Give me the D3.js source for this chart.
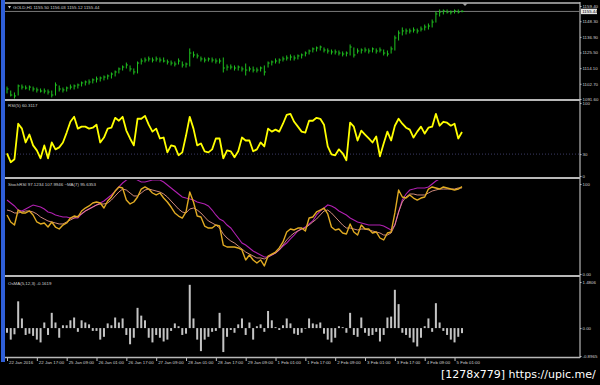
<html>
<script src="https://cdnjs.cloudflare.com/ajax/libs/d3/7.8.5/d3.min.js"></script>
<style>
body { margin: 0; background-color: #000; overflow: hidden; }
svg { display: block; }
.lbl { font: 4.4px 'Liberation Sans', Arial, sans-serif; fill: #d0d0d0; }
.axis text { font: 4.4px 'Liberation Sans', Arial, sans-serif; fill: #d0d0d0; }
.axis line { stroke: #c0c0c0; }
</style>
<body>
<script>
// GOLD H1 bars, one value per bar
var priceHigh = [1100.3,1097.4,1096.0,1101.8,1101.8,1101.1,1101.1,1100.3,1099.6,1098.9,
 1098.9,1098.2,1097.4,1103.3,1101.1,1099.6,1100.3,1101.8,1101.8,1102.5,
 1104.0,1104.7,1105.5,1106.2,1107.6,1107.6,1108.4,1109.1,1110.6,1112.0,
 1114.2,1115.7,1117.8,1115.7,1113.5,1118.6,1120.8,1121.5,1122.2,1121.5,
 1122.2,1121.5,1121.5,1120.0,1119.3,1118.6,1120.8,1118.6,1117.8,1128.1,
 1125.9,1124.4,1122.2,1121.5,1121.5,1121.5,1120.8,1120.8,1121.5,1116.4,
 1116.4,1115.7,1115.7,1114.9,1117.1,1114.9,1114.9,1114.2,1114.9,1115.7,
 1118.6,1119.3,1120.8,1120.8,1122.2,1123.0,1123.7,1123.0,1123.7,1124.4,
 1125.9,1127.3,1128.8,1129.5,1130.2,1128.8,1128.1,1127.3,1127.3,1126.6,
 1125.9,1125.9,1131.0,1128.8,1128.1,1128.1,1128.8,1128.1,1128.8,1128.1,
 1128.8,1127.3,1126.6,1129.5,1137.5,1141.2,1143.4,1142.6,1142.6,1143.4,
 1142.6,1144.1,1145.5,1146.3,1149.2,1155.0,1156.5,1156.5,1156.5,1155.8,
 1156.5,1156.5,1156.03];
var priceLow = [1096.0,1093.8,1092.3,1094.5,1098.9,1098.9,1098.2,1097.4,1096.7,1096.7,
 1096.0,1095.2,1093.1,1094.5,1097.4,1096.7,1097.4,1098.9,1098.9,1099.6,
 1101.1,1101.8,1102.5,1103.3,1104.0,1104.7,1105.5,1106.2,1106.9,1108.4,
 1110.6,1112.7,1114.2,1112.0,1109.8,1110.6,1117.1,1118.6,1119.3,1118.6,
 1119.3,1118.6,1118.6,1117.1,1116.4,1115.7,1117.1,1114.9,1114.9,1115.7,
 1122.2,1121.5,1119.3,1118.6,1119.3,1118.6,1117.8,1117.8,1111.3,1112.7,
 1113.5,1112.7,1112.7,1112.0,1109.1,1112.0,1111.3,1111.3,1112.0,1109.1,
 1114.9,1116.4,1117.8,1117.8,1119.3,1120.0,1120.0,1120.0,1120.8,1121.5,
 1123.0,1124.4,1125.9,1126.6,1127.3,1125.9,1125.1,1124.4,1124.4,1123.7,
 1123.0,1123.0,1123.7,1122.2,1125.1,1125.1,1125.9,1125.1,1125.9,1125.1,
 1125.9,1123.7,1123.0,1125.1,1127.3,1134.6,1138.3,1139.0,1139.7,1140.4,
 1139.7,1141.2,1141.9,1142.6,1144.1,1147.7,1152.1,1153.6,1154.3,1153.6,
 1154.3,1154.3,1155.12];
var priceClose = [1098.9,1094.5,1093.8,1101.1,1100.3,1099.6,1100.3,1098.9,1098.2,1097.4,
 1097.4,1096.7,1094.5,1101.8,1098.9,1098.2,1099.6,1100.3,1101.1,1101.8,
 1103.3,1104.0,1104.0,1105.5,1106.2,1106.9,1107.6,1108.4,1109.8,1111.3,
 1113.5,1114.9,1116.4,1113.5,1111.3,1117.8,1119.3,1120.0,1120.8,1120.0,
 1120.8,1120.0,1119.3,1118.6,1117.8,1117.1,1119.3,1116.4,1117.1,1125.1,
 1123.7,1123.0,1120.8,1120.0,1120.8,1120.0,1119.3,1119.3,1114.2,1114.9,
 1114.9,1114.2,1114.9,1113.5,1112.7,1113.5,1112.7,1112.7,1114.2,1111.3,
 1117.8,1118.6,1119.3,1120.0,1120.8,1121.5,1122.2,1121.5,1123.0,1123.7,
 1125.1,1126.6,1128.1,1128.8,1129.5,1127.3,1126.6,1125.9,1125.9,1125.1,
 1124.4,1125.1,1129.5,1123.7,1126.6,1127.3,1127.3,1126.6,1128.1,1126.6,
 1127.3,1125.1,1124.4,1128.1,1136.1,1139.7,1141.2,1141.2,1141.2,1141.9,
 1141.2,1142.6,1144.1,1144.8,1147.7,1153.6,1155.0,1155.8,1155.0,1155.0,
 1155.8,1155.0,1155.44];

var rsiValues = [31.1,18.9,23.0,71.6,64.9,45.9,56.8,41.9,35.1,24.3,
 41.9,24.3,45.9,36.5,39.2,45.9,59.5,74.3,81.1,64.9,
 67.6,67.6,64.9,66.2,70.3,45.9,52.7,64.9,66.2,79.7,
 75.7,81.1,62.2,51.4,41.9,78.4,78.4,82.4,70.3,60.8,
 64.9,51.4,52.7,32.4,41.9,40.5,28.4,32.4,55.4,81.1,
 64.9,41.9,44.6,33.8,32.4,36.5,51.4,51.4,24.3,35.1,
 33.8,25.7,33.8,52.7,48.6,48.6,33.8,36.5,45.9,40.5,
 64.9,60.8,63.5,60.8,71.6,83.8,85.1,74.3,67.6,60.8,
 59.5,75.7,75.7,79.7,78.4,70.3,40.5,29.7,28.4,36.5,
 31.1,21.6,73.0,67.6,48.6,62.2,56.8,51.4,45.9,54.1,
 27.0,44.6,60.8,48.6,68.9,78.4,71.6,66.2,63.5,52.7,
 60.8,67.6,58.1,66.2,67.6,85.1,68.9,74.3,73.0,68.9,
 71.6,51.4,60.31];

var stochMain = [65.6,57.8,54.4,71.1,67.8,67.8,70.0,65.6,57.8,55.6,
 56.7,52.2,57.8,52.2,50.0,54.4,56.7,62.2,64.4,63.3,
 70.0,73.3,75.6,78.9,80.0,78.9,73.3,81.1,85.6,92.2,
 96.7,95.6,82.2,77.8,80.0,85.6,94.4,96.7,94.4,90.0,
 87.8,90.0,84.4,80.0,74.4,67.8,64.4,62.2,68.9,91.1,
 80.0,64.4,63.3,53.3,51.1,51.1,54.4,53.3,32.2,30.0,
 30.0,30.0,28.9,26.7,15.6,21.1,15.6,12.2,15.6,8.9,
 20.0,22.2,24.4,28.9,35.6,46.7,50.0,48.9,51.1,51.1,
 47.8,62.2,63.3,68.9,71.1,73.3,66.7,52.2,48.9,50.0,
 45.6,44.4,55.6,46.7,43.3,54.4,50.0,50.0,45.6,46.7,
 40.0,37.8,45.6,46.7,67.8,93.3,85.6,84.4,87.8,84.4,
 82.2,84.4,85.6,94.4,96.7,95.6,94.4,96.7,95.6,94.4,
 93.3,94.4,97.12];
var stochMa = [71.1,70.0,67.8,67.8,68.9,70.0,70.0,68.9,66.7,63.3,
 61.1,58.9,57.8,56.7,55.6,55.6,57.8,60.0,62.2,64.4,
 66.7,70.0,72.2,74.4,76.7,77.8,77.8,78.9,82.2,86.7,
 91.1,94.4,93.3,90.0,86.7,86.7,90.0,93.3,94.4,93.3,
 92.2,91.1,88.9,85.6,81.1,76.7,72.2,68.9,67.8,72.2,
 73.3,71.1,67.8,63.3,58.9,56.7,54.4,51.1,44.4,40.0,
 36.7,34.4,31.1,27.8,24.4,22.2,20.0,17.8,17.8,16.7,
 18.9,21.1,23.3,26.7,32.2,37.8,42.2,45.6,47.8,50.0,
 51.1,54.4,57.8,61.1,65.6,70.0,71.1,67.8,63.3,58.9,
 54.4,51.1,51.1,50.0,48.9,50.0,50.0,48.9,47.8,46.7,
 45.6,43.3,43.3,45.6,54.4,68.9,80.0,85.6,88.9,88.9,
 87.8,87.8,87.8,90.0,92.2,93.3,94.4,94.4,94.4,94.4,
 94.4,95.6,95.64];
var stochSlow = [82.2,78.9,75.6,71.1,70.0,72.2,74.4,76.7,75.6,74.4,
 72.2,68.9,67.8,65.6,64.4,63.3,63.3,62.2,62.2,62.2,
 66.7,70.0,72.2,74.4,76.7,78.9,81.1,84.4,87.8,92.2,
 96.7,101.1,104.4,106.7,106.7,104.4,102.2,102.2,103.3,104.4,
 104.4,104.4,102.2,98.9,95.6,92.2,88.9,85.6,84.4,83.3,
 82.2,80.0,78.9,77.8,75.6,71.1,65.6,61.1,58.9,54.4,
 51.1,45.6,40.0,34.4,32.2,28.9,25.6,23.3,21.1,18.9,
 18.9,21.1,23.3,26.7,31.1,34.4,38.9,43.3,47.8,50.0,
 52.2,55.6,58.9,65.6,70.0,73.3,76.7,75.6,73.3,70.0,
 67.8,65.6,62.2,60.0,57.8,56.7,55.6,54.4,54.4,54.4,
 54.4,53.3,51.1,48.9,54.4,68.9,82.2,88.9,93.3,94.4,
 95.6,95.6,95.6,96.7,100.0,103.3,105.6,106.7,107.2,107.8,
 107.8,107.8,107.99];

var osmaValues = [-0.15,-0.37,-0.20,0.86,0.31,-0.22,-0.18,-0.25,-0.37,-0.46,
 0.18,-0.22,0.49,0.18,-0.31,0.09,0.09,0.25,0.34,-0.12,
 0.25,0.18,0.12,-0.09,-0.09,-0.37,-0.28,0.15,0.09,0.34,
 0.18,0.31,-0.22,-0.52,-0.31,0.65,0.40,0.25,-0.31,-0.46,
 -0.22,-0.31,-0.43,-0.37,-0.09,0.15,0.06,-0.22,-0.18,1.39,
 0.31,-0.37,-0.74,-0.37,-0.28,-0.12,-0.09,0.49,-0.77,-0.28,
 -0.06,-0.15,0.12,0.31,-0.22,0.18,-0.37,0.06,0.12,-0.12,
 0.55,0.25,0.03,-0.06,0.09,0.31,0.15,-0.18,-0.22,-0.15,
 -0.02,0.31,0.15,0.12,0.18,-0.18,-0.37,-0.46,-0.31,0.06,
 0.03,-0.15,0.49,-0.22,-0.28,0.34,-0.15,-0.25,-0.22,-0.12,
 -0.43,-0.22,0.34,0.37,1.23,0.77,-0.15,-0.22,-0.31,-0.46,
 -0.59,-0.31,0.06,0.31,-0.12,0.80,0.18,-0.09,-0.22,-0.37,
 -0.46,-0.28,-0.1619];

var timeLabels = ['22 Jan 2016','22 Jan 17:00','25 Jan 09:00','26 Jan 01:00','26 Jan 17:00',
 '27 Jan 09:00','28 Jan 01:00','28 Jan 17:00','29 Jan 09:00','1 Feb 01:00','1 Feb 17:00',
 '2 Feb 09:00','3 Feb 01:00','3 Feb 17:00','4 Feb 09:00','5 Feb 01:00'];
var priceTicks = [1159.40, 1148.30, 1136.90, 1125.50, 1114.10, 1102.70, 1091.60];
var rsiTicks = [100, 30, 0];
var stochTicks = [100, 0];
var stochTickText = ['100', '0.00'];
var osmaTicks = [1.4806, 0, -0.8965];
var osmaTickText = ['1.4806', '0.00', '-0.8965'];
var lastPrice = 1155.44;

var W = 600, H = 385, axisX = 580;

var svg = d3.select('body').append('svg').attr('width', W).attr('height', H);
svg.append('rect').attr('width', W).attr('height', H).attr('fill', '#000');

var x = d3.scaleLinear().domain([0, priceClose.length - 1]).range([7, 462]);
var yPrice = d3.scaleLinear().domain([1091.6, 1159.4]).range([99, 6]);
var yRsi = d3.scaleLinear().domain([0, 100]).range([176, 103]);
var yStoch = d3.scaleLinear().domain([0, 100]).range([274, 184]);
var yOsma = d3.scaleLinear().domain([-0.8965, 1.4806]).range([356, 282]);

// clip each pane
var panes = [['pPrice', 4, 99], ['pRsi', 101, 177], ['pSto', 180, 275], ['pOsma', 278, 357]];
var defs = svg.append('defs');
panes.forEach(function(p) {
  defs.append('clipPath').attr('id', p[0])
    .append('rect').attr('x', 5).attr('y', p[1]).attr('width', axisX - 5).attr('height', p[2] - p[1]);
});

// left blue strip
svg.append('rect').attr('x', 1).attr('y', 0).attr('width', 4).attr('height', 362).attr('fill', '#2f5fd8');

// separators
[3, 100, 178, 276, 357.5].forEach(function(yy) {
  svg.append('line').attr('x1', 5).attr('x2', axisX).attr('y1', yy).attr('y2', yy)
    .attr('stroke', '#b8b8b8').attr('stroke-width', yy == 3 || yy == 357.5 ? 1.5 : 2);
});
svg.append('line').attr('x1', axisX).attr('x2', axisX).attr('y1', 2).attr('y2', 358)
  .attr('stroke', '#b8b8b8').attr('stroke-width', 1.2);

// ---- price pane
var gPrice = svg.append('g').attr('clip-path', 'url(#pPrice)');
gPrice.append('line').attr('x1', 5).attr('x2', axisX)
  .attr('y1', yPrice(lastPrice)).attr('y2', yPrice(lastPrice))
  .attr('stroke', '#7a7a7a').attr('stroke-width', 1);
var bars = gPrice.selectAll('.bar').data(priceClose).enter().append('g').attr('class', 'bar');
bars.append('line')
  .attr('x1', function(d, i) { return x(i); }).attr('x2', function(d, i) { return x(i); })
  .attr('y1', function(d, i) { return yPrice(priceHigh[i]) - 0.5; })
  .attr('y2', function(d, i) { return yPrice(priceLow[i]) + 0.5; })
  .attr('stroke', '#1fc21f').attr('stroke-width', 1);
bars.append('line')
  .attr('x1', function(d, i) { return x(i); }).attr('x2', function(d, i) { return x(i) + 1.6; })
  .attr('y1', function(d) { return yPrice(d); }).attr('y2', function(d) { return yPrice(d); })
  .attr('stroke', '#1fc21f').attr('stroke-width', 1);

// chart shift marker
svg.append('path').attr('d', 'M462,3 L468,3 L465,6 Z').attr('fill', '#a0a0a0');

// ---- RSI pane
var gRsi = svg.append('g').attr('clip-path', 'url(#pRsi)');
gRsi.append('line').attr('x1', 5).attr('x2', axisX).attr('y1', yRsi(30)).attr('y2', yRsi(30))
  .attr('stroke', '#3c3c66').attr('stroke-dasharray', '1,2');
gRsi.append('path').datum(rsiValues)
  .attr('d', d3.line().x(function(d, i) { return x(i); }).y(function(d) { return yRsi(d); }))
  .attr('fill', 'none').attr('stroke', '#ffff00').attr('stroke-width', 1.8).attr('stroke-linejoin', 'round');

// ---- Stoch RSI pane
var gSto = svg.append('g').attr('clip-path', 'url(#pSto)');
var stoLine = d3.line().x(function(d, i) { return x(i); }).y(function(d) { return yStoch(d); });
gSto.append('path').datum(stochSlow).attr('d', stoLine)
  .attr('fill', 'none').attr('stroke', '#b020b0').attr('stroke-width', 1.1);
gSto.append('path').datum(stochMa).attr('d', stoLine)
  .attr('fill', 'none').attr('stroke', '#e89a8a').attr('stroke-width', 0.9);
gSto.append('path').datum(stochMain).attr('d', stoLine)
  .attr('fill', 'none').attr('stroke', '#e0aa22').attr('stroke-width', 1.4).attr('stroke-linejoin', 'round');

// ---- OsMA pane
var gOsma = svg.append('g').attr('clip-path', 'url(#pOsma)');
gOsma.selectAll('.hist').data(osmaValues).enter().append('rect').attr('class', 'hist')
  .attr('x', function(d, i) { return x(i) - 1; })
  .attr('width', 2)
  .attr('y', function(d) { return Math.min(yOsma(0), yOsma(d)); })
  .attr('height', function(d) { return Math.abs(yOsma(d) - yOsma(0)); })
  .attr('fill', '#c4c4c4');

// ---- right axes
function rightAxis(scale, ticks, fmt) {
  var g = svg.append('g').attr('class', 'axis').attr('transform', 'translate(' + axisX + ',0)')
    .call(d3.axisRight(scale).tickValues(ticks).tickSize(1.5).tickPadding(1).tickFormat(fmt));
  g.select('.domain').remove();
  return g;
}
rightAxis(yPrice, priceTicks, d3.format('.2f'));
rightAxis(yRsi, rsiTicks, d3.format('d'));
rightAxis(yStoch, stochTicks, function(d, i) { return stochTickText[i]; });
rightAxis(yOsma, osmaTicks, function(d, i) { return osmaTickText[i]; });

// current price box
svg.append('rect').attr('x', axisX + 1).attr('y', yPrice(lastPrice) - 2.7)
  .attr('width', 16).attr('height', 5.4).attr('fill', '#e6e6e6');
svg.append('text').attr('x', axisX + 2.2).attr('y', yPrice(lastPrice) + 1.6)
  .style('font', "4.4px 'Liberation Sans', Arial, sans-serif").attr('fill', '#000')
  .text(d3.format('.2f')(lastPrice));

// ---- time axis
var gTime = svg.append('g').attr('class', 'axis').attr('transform', 'translate(0,358)')
  .call(d3.axisBottom(x).tickValues(d3.range(0, priceClose.length, 8)).tickSize(3)
    .tickFormat(function(d, i) { return timeLabels[i]; }));
gTime.select('.domain').remove();
gTime.selectAll('text').attr('text-anchor', 'start').attr('x', 1.5).attr('y', 2.5).attr('dy', '0.71em');

// ---- pane titles
svg.append('path').attr('d', 'M8,6 L11,6 L9.5,8.5 Z').attr('fill', '#d0d0d0');
svg.append('text').attr('class', 'lbl').attr('x', 13).attr('y', 9).text('GOLD,H1  1155.50 1156.03 1155.12 1155.44');
svg.append('text').attr('class', 'lbl').attr('x', 8).attr('y', 106.5).text('RSI(5) 60.3117');
svg.append('text').attr('class', 'lbl').attr('x', 8).attr('y', 186).text('StochRSI 97.1234 107.9946  ~MA(7) 95.6353');
svg.append('text').attr('class', 'lbl').attr('x', 8).attr('y', 284.5).text('OsMA(5,12,3) -0.1619');

// watermark
svg.append('text').attr('x', 441).attr('y', 378).attr('fill', '#fff')
  .style('font', "11px 'DejaVu Sans', sans-serif").text('[1278x779] https://upic.me/');
</script>
</body>
</html>
